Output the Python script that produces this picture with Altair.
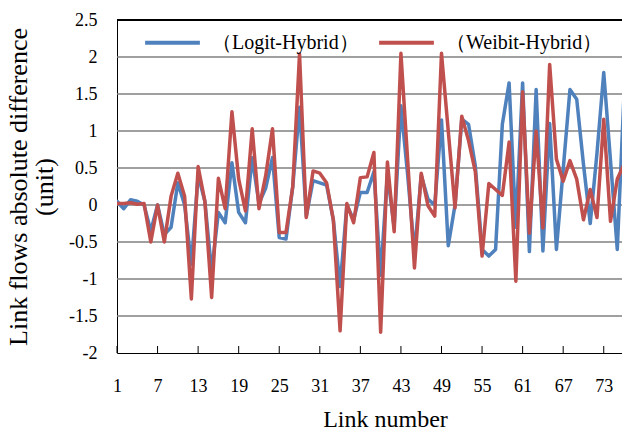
import altair as alt
import pandas as pd

# Link-by-link absolute differences in link flows (unit) for two hybrid models
links = list(range(1, 77))

logit_hybrid = [
    0.05, -0.05, 0.07, 0.05, 0.00, -0.35, 0.00, -0.40, -0.30, 0.30,
    0.00, -0.80, 0.40, 0.05, -0.90, -0.10, -0.24, 0.57, -0.10, -0.24,
    0.64, 0.02, 0.23, 0.64, -0.44, -0.46, 0.25, 1.32, -0.15, 0.33,
    0.30, 0.27, -0.20, -1.10, 0.00, -0.20, 0.17, 0.17, 0.45, -0.95,
    0.42, -0.30, 1.34, 0.40, -0.65, 0.40, 0.08, 0.00, 1.15, -0.55,
    0.00, 1.16, 1.09, 0.53, -0.60, -0.69, -0.60, 1.09, 1.65, -0.30,
    1.65, -0.63, 1.56, -0.62, 1.10, -0.60, 0.48, 1.56, 1.43, 0.55,
    -0.25, 0.70, 1.79, 0.60, -0.60, 1.50,
]

weibit_hybrid = [
    0.02, 0.02, 0.03, 0.01, 0.02, -0.50, 0.00, -0.50, 0.12, 0.43,
    0.12, -1.27, 0.52, 0.05, -1.25, 0.36, -0.05, 1.26, 0.35, -0.08,
    1.03, -0.05, 0.40, 1.03, -0.37, -0.37, 0.25, 2.04, -0.17, 0.46,
    0.43, 0.30, -0.20, -1.70, 0.02, -0.24, 0.37, 0.38, 0.71, -1.72,
    0.58, -0.36, 2.05, 0.60, -0.85, 0.43, -0.01, -0.15, 2.05, 1.00,
    -0.04, 1.20, 0.87, 0.45, -0.69, 0.29, 0.21, 0.13, 0.85, -1.03,
    1.53, -0.38, 1.00, -0.31, 1.90, 0.62, 0.32, 0.60, 0.35, -0.20,
    0.21, -0.17, 1.16, -0.22, 0.35, 0.55,
]

series_names = ["（Logit-Hybrid）", "（Weibit-Hybrid）"]
series_colors = ["#4F81BD", "#C0504D"]

x_tick_values = [1, 7, 13, 19, 25, 31, 37, 43, 49, 55, 61, 67, 73]
y_tick_values = [-2, -1.5, -1, -0.5, 0, 0.5, 1, 1.5, 2, 2.5]
grid_values = [-1.5, -1, -0.5, 0, 0.5, 1, 1.5, 2]

df = pd.DataFrame({
    "link": links * 2,
    "diff": logit_hybrid + weibit_hybrid,
    "series": [series_names[0]] * len(links) + [series_names[1]] * len(links),
})
ticks_df = pd.DataFrame({"link": x_tick_values})
grid_df = pd.DataFrame({"diff": grid_values})

W, H = 505, 333
SERIF = "Liberation Serif"

x_scale = alt.Scale(domain=[1, 75.7], nice=False, zero=False)
y_scale = alt.Scale(domain=[-2, 2.5], nice=False, zero=False)

x_enc = alt.X(
    "link:Q",
    scale=x_scale,
    axis=alt.Axis(
        values=x_tick_values,
        title="Link number",
        ticks=False,
        grid=False,
        domainColor="black",
        labelPadding=24,
        labelOverlap=False,
        labelFlush=False,
        titleX=268,
        titleY=73,
        titleBaseline="alphabetic",
        titleAnchor="middle",
    ),
)
y_enc = alt.Y(
    "diff:Q",
    scale=y_scale,
    axis=alt.Axis(
        values=y_tick_values,
        labelExpr="'' + datum.value",
        labelOverlap=False,
        title=["Link flows absolute difference", "(unit)"],
        ticks=False,
        grid=False,
        domainColor="black",
        labelPadding=20,
        titleAngle=-90,
        titleX=-112,
        titleY=H / 2,
        titleBaseline="top",
        titleAnchor="middle",
        titleFontSize=26,
        titleLineHeight=26,
    ),
)
color_enc = alt.Color(
    "series:N",
    scale=alt.Scale(domain=series_names, range=series_colors),
    legend=alt.Legend(
        title=None,
        orient="none",
        direction="horizontal",
        legendX=26,
        legendY=-7,
        symbolType="stroke",
        symbolSize=3000,
        symbolStrokeWidth=4,
        labelOffset=10,
        columnPadding=12,
        labelFont=SERIF,
        labelFontSize=20,
        labelColor="black",
    ),
)

# horizontal gridlines, drawn beneath the series
grid = (
    alt.Chart(grid_df)
    .mark_rule(color="#808080", strokeWidth=1.4)
    .encode(y=y_enc)
)


def series_line(name):
    return (
        alt.Chart(df)
        .transform_filter(alt.datum.series == name)
        .mark_line(strokeWidth=3.5, strokeJoin="round", strokeCap="round", clip=True)
        .encode(x=x_enc, y=y_enc, color=color_enc)
    )


# inward tick marks on the category axis
x_ticks = (
    alt.Chart(ticks_df)
    .mark_rule(color="black", strokeWidth=1)
    .encode(x=x_enc, y=alt.value(H), y2=alt.value(H - 7))
)

# top frame line
top_line = alt.Chart(ticks_df).mark_rule(color="black", strokeWidth=1).encode(
    y=alt.value(0)
)

chart = (
    alt.layer(
        grid,
        series_line(series_names[0]),
        series_line(series_names[1]),
        x_ticks,
        top_line,
    )
    .properties(
        width=W,
        height=H,
        autosize=alt.AutoSizeParams(type="none"),
        padding={"left": 117, "top": 20, "right": 0, "bottom": 88},
        background="white",
    )
    .configure_view(stroke=None)
    .configure_axis(
        labelFont=SERIF,
        labelFontSize=18,
        labelColor="black",
        titleFont=SERIF,
        titleFontSize=24,
        titleFontWeight="normal",
        titleColor="black",
    )
)

chart.save("out.html", embed_options={"renderer": "svg", "actions": False})
